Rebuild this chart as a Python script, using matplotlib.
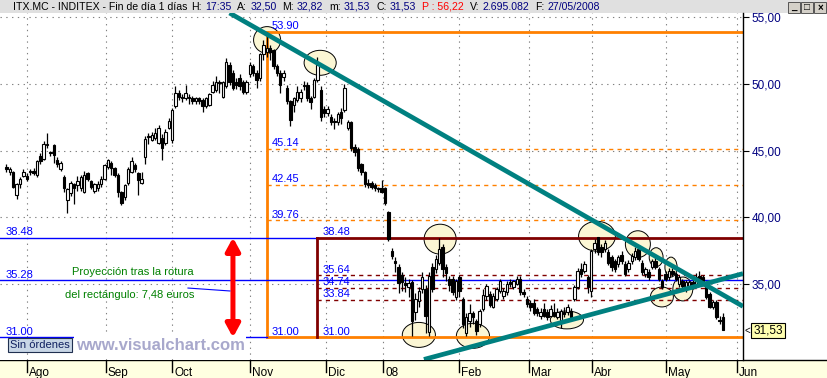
import matplotlib
matplotlib.use('Agg')
import matplotlib.pyplot as plt
from matplotlib.patches import Ellipse, Rectangle, FancyArrowPatch
from matplotlib.lines import Line2D
from matplotlib.transforms import blended_transform_factory
import numpy as np

plt.rcParams['font.family'] = ['Liberation Sans', 'DejaVu Sans']

# daily candles ITX.MC, late Jul 2007 -> 27/05/2008
opens = [43.8, 43.4, 43.4, 41.7, 42.5, 43.1, 43.1, 43.4, 43.5, 43.2, 44.6, 44.4, 45.4, 44.9, 45.4, 44.3, 43.6, 43.0, 41.3, 41.8,
         42.5, 42.4, 42.2, 41.9, 43.3, 42.7, 42.0, 42.2, 42.5, 42.9, 43.8, 44.1, 43.7, 43.2, 41.9, 41.5, 42.6, 43.4, 43.9, 43.3,
         42.6, 44.5, 45.98, 45.82, 45.97, 45.6, 45.97, 45.6, 46.7, 45.8, 48.3, 49.3, 49.0, 48.95, 49.0, 48.9, 48.7, 48.9, 48.8, 48.3,
         48.4, 49.4, 49.55, 50.1, 49.0, 49.8, 51.4, 50.8, 50.15, 50.4, 50.15, 49.4, 50.7, 51.3, 50.8, 50.4, 52.2, 52.4, 52.7, 52.5,
         51.3, 50.8, 50.5, 49.7, 48.7, 48.4, 48.8, 48.95, 49.9, 49.9, 48.95, 49.0, 50.3, 49.55, 48.1, 47.8, 47.5, 47.2, 47.1, 47.9,
         48.06, 46.7, 47.1, 45.3, 45.1, 44.0, 43.4, 42.6, 42.6, 42.4, 42.2, 42.2, 42.2, 40.4, 37.5, 36.7, 36.3, 35.7, 35.1, 34.8,
         35.15, 32.9, 33.7, 34.6, 34.6, 31.4, 36.3, 36.1, 36.6, 37.8, 36.3, 35.4, 35.4, 34.0, 35.5, 33.9, 31.3, 32.2, 32.8, 32.2,
         32.0, 33.1, 34.1, 34.25, 33.3, 33.9, 34.5, 34.1, 34.4, 35.15, 34.8, 35.0, 35.4, 34.4, 33.9, 33.6, 33.6, 33.1, 32.6, 33.1,
         32.9, 32.6, 32.9, 32.55, 32.2, 32.9, 32.9, 33.0, 33.9, 34.8, 36.1, 36.0, 35.5, 34.5, 37.6, 38.5, 37.8, 37.6, 37.4, 37.0,
         36.7, 36.5, 37.2, 36.5, 36.1, 36.7, 37.0, 37.6, 36.6, 35.75, 35.9, 36.3, 36.7, 36.1, 35.2, 35.75, 35.5, 36.0, 35.75, 35.0,
         35.2, 34.6, 34.8, 35.15, 35.0, 35.6, 35.5, 34.8, 34.25, 33.3, 33.65, 32.3, 32.50]
highs = [44.0, 43.8, 43.5, 42.6, 43.0, 43.6, 43.3, 43.6, 43.7, 44.3, 44.8, 45.7, 46.3, 45.0, 45.5, 44.5, 44.2, 43.2, 42.2, 42.7,
         42.6, 43.1, 43.2, 43.5, 43.4, 42.8, 42.6, 42.7, 43.1, 44.0, 44.4, 44.2, 43.8, 43.3, 42.0, 42.5, 43.8, 44.5, 44.1, 43.4,
         43.4, 46.1, 46.3, 46.4, 46.7, 46.9, 46.2, 46.6, 47.4, 48.2, 49.8, 49.5, 49.2, 49.9, 49.2, 49.1, 49.0, 49.0, 48.9, 49.0,
         49.3, 50.2, 50.6, 50.3, 50.2, 51.9, 51.6, 51.0, 50.4, 50.7, 50.3, 50.3, 51.6, 51.5, 51.0, 52.3, 53.3, 53.9, 52.9, 52.6,
         51.5, 51.0, 51.0, 49.9, 48.8, 49.0, 49.8, 49.6, 50.2, 50.1, 49.1, 50.4, 52.0, 49.8, 48.3, 48.3, 47.7, 47.4, 47.9, 48.2,
         50.0, 47.3, 47.2, 45.5, 45.3, 44.1, 43.5, 42.9, 42.7, 42.6, 42.3, 42.8, 42.3, 40.5, 37.7, 37.0, 36.5, 35.9, 35.5, 35.4,
         35.3, 34.3, 34.8, 35.9, 34.9, 35.9, 36.6, 37.2, 38.45, 38.0, 36.5, 35.6, 35.6, 35.4, 35.7, 34.0, 32.8, 33.5, 33.0, 32.4,
         33.1, 34.6, 35.0, 34.5, 34.3, 34.8, 35.4, 34.7, 35.2, 35.4, 35.3, 35.6, 35.6, 34.6, 34.1, 33.8, 33.9, 33.3, 33.2, 33.6,
         33.1, 33.4, 33.6, 33.2, 33.1, 33.3, 33.5, 33.2, 34.9, 36.2, 36.6, 36.7, 35.7, 37.6, 38.4, 38.5, 38.0, 38.3, 37.6, 37.2,
         36.9, 37.2, 37.5, 36.7, 36.8, 37.3, 37.8, 37.9, 36.8, 36.3, 36.1, 36.9, 37.0, 36.3, 35.4, 36.0, 36.2, 36.2, 35.9, 35.7,
         35.4, 35.3, 35.3, 35.3, 35.8, 36.0, 35.7, 35.0, 34.4, 33.8, 33.8, 32.6, 32.82]
lows = [43.4, 43.2, 42.2, 41.4, 42.2, 43.0, 42.7, 43.2, 43.2, 43.0, 44.0, 44.3, 45.2, 44.6, 44.1, 43.8, 43.5, 41.9, 40.3, 41.6,
        41.0, 42.0, 42.0, 41.8, 42.7, 42.1, 41.8, 42.0, 42.3, 42.8, 43.6, 43.2, 43.0, 41.5, 40.9, 41.3, 42.4, 43.3, 43.4, 41.7,
        42.5, 44.0, 45.5, 45.7, 45.8, 45.5, 44.3, 45.4, 46.6, 45.6, 48.2, 48.8, 48.6, 48.8, 48.5, 48.5, 48.5, 48.5, 47.9, 48.2,
        48.3, 49.3, 49.4, 49.3, 48.9, 49.7, 49.9, 49.5, 49.6, 49.5, 49.2, 49.2, 50.5, 50.6, 49.7, 50.2, 51.8, 52.0, 51.8, 51.1,
        50.6, 49.3, 50.2, 48.5, 46.8, 47.9, 48.6, 48.6, 49.5, 48.7, 48.1, 48.9, 50.1, 47.2, 47.5, 47.6, 46.9, 46.6, 46.9, 47.0,
        47.9, 46.5, 45.0, 44.6, 43.5, 43.2, 42.3, 42.2, 42.1, 42.0, 41.9, 41.8, 40.9, 38.2, 36.9, 35.9, 34.3, 34.5, 34.4, 34.0,
        31.1, 32.3, 33.3, 34.3, 31.3, 31.1, 34.4, 35.8, 36.4, 35.5, 35.2, 34.5, 34.2, 33.8, 34.0, 31.7, 31.1, 31.8, 32.0, 31.2,
        31.8, 33.0, 33.8, 33.3, 33.2, 33.7, 34.3, 33.9, 34.2, 34.8, 34.6, 34.9, 34.2, 34.0, 33.3, 33.0, 32.7, 32.6, 32.4, 32.5,
        32.3, 32.5, 32.5, 32.4, 31.7, 32.5, 32.7, 32.2, 33.7, 34.6, 35.5, 35.8, 34.3, 34.0, 37.3, 37.2, 37.0, 37.4, 36.4, 36.0,
        35.9, 36.3, 36.5, 35.6, 35.9, 36.5, 36.8, 36.7, 35.7, 35.5, 35.3, 36.1, 36.1, 35.2, 34.6, 35.2, 35.3, 35.6, 35.2, 34.8,
        34.6, 34.4, 34.6, 34.6, 34.9, 35.0, 35.0, 33.9, 33.2, 33.1, 32.4, 32.0, 31.53]
closes = [43.6, 43.6, 42.3, 42.5, 42.9, 43.4, 42.9, 43.5, 43.35, 44.2, 44.2, 45.5, 45.5, 44.8, 44.7, 44.0, 44.1, 42.2, 42.1, 42.6,
          42.2, 42.7, 43.0, 43.2, 42.9, 42.3, 42.5, 42.5, 42.9, 43.9, 44.3, 43.7, 43.2, 41.9, 41.1, 42.4, 43.6, 44.2, 43.6, 42.8,
          42.9, 45.9, 46.05, 46.19, 46.34, 46.7, 45.22, 46.4, 47.2, 48.06, 49.3, 49.0, 48.9, 49.3, 48.95, 48.7, 48.9, 48.7, 48.3, 48.9,
          49.2, 49.9, 50.15, 50.05, 50.1, 51.6, 50.1, 49.7, 49.9, 49.8, 49.4, 50.15, 51.4, 50.8, 50.3, 52.2, 52.9, 52.7, 52.4, 51.3,
          50.8, 49.9, 50.8, 48.7, 47.3, 48.9, 49.4, 49.4, 49.8, 48.95, 48.6, 50.3, 51.4, 47.5, 47.8, 48.1, 47.1, 47.1, 47.7, 47.4,
          49.7, 47.1, 45.2, 44.9, 43.7, 43.4, 42.5, 42.4, 42.3, 42.2, 42.1, 41.9, 41.1, 38.4, 37.1, 36.6, 35.1, 35.15, 34.9, 35.1,
          32.2, 33.9, 34.5, 35.5, 32.6, 35.6, 34.6, 36.9, 37.6, 36.1, 35.8, 34.9, 34.4, 35.2, 34.5, 32.0, 32.5, 32.8, 32.5, 31.5,
          33.0, 34.2, 34.85, 33.4, 34.1, 34.6, 35.2, 34.5, 35.0, 35.0, 35.2, 35.4, 34.4, 34.25, 33.5, 33.3, 32.8, 32.8, 32.9, 32.6,
          32.55, 33.1, 32.6, 32.9, 32.95, 32.75, 33.3, 32.55, 34.8, 36.0, 35.75, 36.5, 34.8, 37.5, 38.1, 37.4, 37.4, 38.1, 36.6, 36.3,
          36.1, 37.0, 36.7, 35.75, 36.6, 37.1, 37.5, 36.9, 35.9, 36.1, 35.5, 36.7, 36.3, 35.4, 34.8, 35.4, 36.0, 35.75, 35.4, 35.5,
          34.85, 35.15, 35.15, 34.8, 35.5, 35.15, 35.2, 34.0, 33.3, 33.65, 32.55, 32.2, 31.53]

month_labels = ['Ago', 'Sep', 'Oct', 'Nov', 'Dic', '08', 'Feb', 'Mar', 'Abr', 'May', 'Jun']
month_ticks = [6.1, 29.4, 49.0, 72.0, 94.5, 111.4, 133.9, 154.6, 173.2, 195.1, 216.1]
price_ticks = [35, 40, 45, 50, 55]

# fibonacci retracement of the 53.90 -> 31.00 move
fibo_levels = [45.14, 42.45, 39.76]
high_level, low_level = 53.90, 31.00
# rectangle 38.48 / 31.00 and its inner levels
rect_top = 38.48
rect_inner = [35.64, 34.74, 33.84]
left_levels = [38.48, 35.28, 31.00]
# trend lines (candle index, price)
down_trend = [(66.0, 55.30), (217.9, 33.33)]
up_trend = [(123.5, 29.35), (217.9, 35.78)]
# highlighted zones (candle index, price, width, height)
circles = [(77.1, 53.28, 8.0, 2.0), (92.8, 51.57, 9.5, 1.87), (122.0, 31.19, 9.8, 1.87),
           (128.3, 38.36, 9.5, 2.24), (138.0, 31.12, 9.8, 1.87), (165.8, 32.31, 9.8, 1.34),
           (174.7, 38.58, 10.9, 2.24), (186.8, 37.99, 7.4, 2.0), (192.2, 37.01, 4.1, 1.42),
           (196.6, 36.27, 3.6, 1.49), (193.9, 34.03, 6.8, 1.49), (200.1, 34.63, 5.9, 1.79)]
fibo_x = 77.0
rect_x = 92.0
arrow_x = 67.0

W, H = 828, 378
fig = plt.figure(figsize=(W / 100, H / 100), dpi=100, facecolor='white')


def fx(x):
    return x / W


def fy(y):
    return 1 - y / H


NAVY = '#000080'
BLUE = '#0000FF'
ORANGE = '#FF8000'
DRED = '#800000'
TEAL = '#008080'

# title bar + bottom band (behind the axes)
fig.patches.append(Rectangle((0, fy(13)), 1, 13 / H, transform=fig.transFigure,
                             facecolor='#E0E0E0', edgecolor='none', zorder=-2))
fig.patches.append(Rectangle((0, 0), 1, fy(360), transform=fig.transFigure,
                             facecolor='#FFFFE1', edgecolor='none', zorder=-2))
fig.add_artist(Line2D([0, 1], [fy(360), fy(360)], color='black', lw=1, zorder=-1))

ax = fig.add_axes([0, fy(360), 743 / W, (360 - 13) / H])
ax.set_xlim(-1.92, 217.9)
ax.set_ylim(29.31, 55.30)
for s in ['left', 'top', 'bottom']:
    ax.spines[s].set_visible(False)
ax.spines['right'].set_color('black')
ax.spines['right'].set_linewidth(1)
ax.set_xticks([])
ax.yaxis.tick_right()
ax.set_yticks(price_ticks)
ax.set_yticklabels(['%d,00' % p for p in price_ticks])
ax.tick_params(axis='y', length=4, width=0.8, pad=2, labelsize=8.5, labelcolor=NAVY)

dots = (0, (1.2, 4))
for p in price_ticks:
    ax.axhline(p, color='#808080', lw=0.8, ls=dots, zorder=0)
for t in month_ticks:
    ax.axvline(t, color='#808080', lw=0.8, ls=dots, zorder=0)

# highlighted zones
for cx, cy, w, h in circles:
    ax.add_patch(Ellipse((cx, cy), w, h, facecolor='#FBF6D4', edgecolor='black', lw=0.7, zorder=1))

xmax = 217.9
xmin = -1.92
# fibo (orange)
ax.plot([fibo_x, fibo_x], [low_level, high_level], color=ORANGE, lw=2, zorder=2)
ax.plot([fibo_x, xmax], [high_level, high_level], color=ORANGE, lw=2, zorder=2)
ax.plot([fibo_x, xmax], [low_level, low_level], color=ORANGE, lw=2, zorder=2)
for lv in fibo_levels:
    ax.plot([fibo_x, xmax], [lv, lv], color=ORANGE, lw=1, ls=(0, (3, 3)), zorder=2)
# left blue levels
ax.plot([xmin, rect_x], [left_levels[0]] * 2, color=BLUE, lw=1, zorder=2)
ax.plot([xmin, xmax], [left_levels[1]] * 2, color=BLUE, lw=1, zorder=2)
ax.plot([xmin, fibo_x], [left_levels[2]] * 2, color=BLUE, lw=1, zorder=2)
# rectangle (dark red)
ax.plot([rect_x, rect_x], [low_level, rect_top], color=DRED, lw=2, zorder=2)
ax.plot([rect_x, xmax], [rect_top, rect_top], color=DRED, lw=2, zorder=2)
for lv in rect_inner:
    ax.plot([rect_x, xmax], [lv, lv], color=DRED, lw=1, ls=(0, (3, 3)), zorder=2)

# candles
idx = np.arange(len(closes))
o = np.array(opens)
c = np.array(closes)
ax.vlines(idx, lows, highs, color='black', lw=0.9, zorder=3)
up = c >= o
bottom = np.minimum(o, c)
height = np.maximum(np.abs(c - o), 0.06)
ax.bar(idx[up], height[up], bottom=bottom[up], width=0.72, color='white',
       edgecolor='black', lw=0.8, zorder=3)
ax.bar(idx[~up], height[~up], bottom=bottom[~up], width=0.72, color='black',
       edgecolor='black', lw=0.8, zorder=3)

# trend lines
ax.plot(*zip(*down_trend), color=TEAL, lw=3.4, zorder=4, solid_capstyle='butt')
ax.plot(*zip(*up_trend), color=TEAL, lw=3.4, zorder=4, solid_capstyle='butt')

# projection arrow
ax.add_patch(FancyArrowPatch((arrow_x, rect_top), (arrow_x, low_level),
                             arrowstyle='<|-|>,head_length=0.55,head_width=0.3',
                             mutation_scale=14, lw=3.6, color='#FF0000',
                             shrinkA=0, shrinkB=0, zorder=5))
ax.plot([53.7, 66.1], [34.70, 34.48], color=BLUE, lw=0.8, zorder=5)
ax.text(37.4, 35.90, 'Proyección tras la rotura', color='#008000', fontsize=8,
        ha='center', va='center', zorder=6)
ax.text(36.5, 34.18, 'del rectángulo: 7,48 euros', color='#008000', fontsize=8,
        ha='center', va='center', zorder=6)


# level labels
def level_label(x, y, s):
    ax.annotate(s, (x, y), xytext=(3.6, 1.8), textcoords='offset points',
                color=BLUE, fontsize=8, ha='left', va='baseline', zorder=6)


level_label(fibo_x, high_level, '%.2f' % high_level)
for lv in fibo_levels:
    level_label(fibo_x, lv, '%.2f' % lv)
level_label(fibo_x, low_level, '%.2f' % low_level)
for lv in left_levels:
    level_label(xmin + 0.1, lv, '%.2f' % lv)
level_label(rect_x, rect_top, '%.2f' % rect_top)
for lv in rect_inner:
    level_label(rect_x, lv, '%.2f' % lv)
level_label(rect_x, low_level, '%.2f' % low_level)

# month axis (in the yellow band under the chart)
bt = blended_transform_factory(ax.transData, fig.transFigure)
for t, lab in zip(month_ticks, month_labels):
    ax.plot([t, t], [fy(361), fy(372)], color='black', lw=1, transform=bt, clip_on=False, zorder=6)
    ax.text(t + 0.6, fy(376), lab, transform=bt, fontsize=8.5, ha='left', va='baseline',
            color='black', clip_on=False, zorder=6)

# last price marker
fig.text(fx(745), fy(331), '<', fontsize=7, color='black', ha='left', va='center')
fig.text(fx(768), fy(330.5), '31,53', fontsize=8.5,
         color='black', ha='center', va='center',
         bbox=dict(boxstyle='square,pad=0.15', facecolor='#FFFFB0', edgecolor='black', lw=0.8))

# watermark + order box
fig.patches.append(Rectangle((fx(74), fy(356)), (246 - 74) / W, 20 / H, transform=fig.transFigure,
                             facecolor='white', edgecolor='none', zorder=2))
fig.text(fx(160), fy(345.5), 'www.visualchart.com', fontsize=12, fontweight='bold',
         color='#A8A8CC', ha='center', va='center', zorder=3)
fig.patches.append(Rectangle((fx(8), fy(352)), 64 / W, 14 / H, transform=fig.transFigure,
                             facecolor='#C8D6E6', edgecolor='#203050', lw=0.8, zorder=2))
fig.text(fx(40), fy(345), 'Sin órdenes', fontsize=8, color='#102060', ha='center',
         va='center', zorder=3)

# title text
title_parts = [('ITX.MC - INDITEX - Fin de día 1 días', 'black', 4), ('H:', 'black', 3),
               ('17:35', NAVY, 6), ('A:', 'black', 3), ('32,50', NAVY, 6),
               ('M:', 'black', 3), ('32,82', NAVY, 6), ('m:', 'black', 3),
               ('31,53', NAVY, 6), ('C:', 'black', 3), ('31,53', NAVY, 6),
               ('P : 56,22', '#FF0000', 6), ('V:', 'black', 3), ('2.695.082', NAVY, 6),
               ('F:', 'black', 3), ('27/05/2008', NAVY, 6)]
renderer = fig.canvas.get_renderer()
xpos = 13
for txt, col, gap in title_parts:
    t = fig.text(fx(xpos), fy(6.5), txt, fontsize=7.6, color=col, ha='left', va='center')
    xpos += t.get_window_extent(renderer).width + gap

# window buttons
for k, g in enumerate(['_', '□', '×']):
    bx = 788 + 13 * k
    fig.patches.append(Rectangle((fx(bx), fy(13)), 12 / W, 11 / H, transform=fig.transFigure,
                                 facecolor='#D4D0C8', edgecolor='#404040', lw=0.6, zorder=2))
    fig.text(fx(bx + 6), fy(7.5), g, fontsize=7, color='black', ha='center', va='center',
             fontweight='bold', zorder=3)

fig.savefig('out.png', dpi=100, facecolor='white')
